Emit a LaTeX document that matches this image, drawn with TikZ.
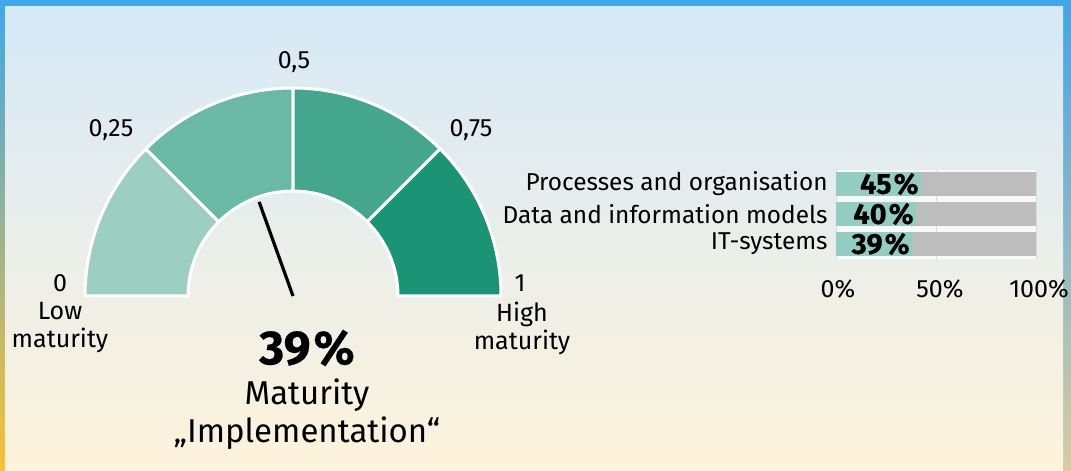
\documentclass[tikz,border=0pt]{standalone}
\usepackage{fontspec}
\setmainfont{Fira Sans}
\newfontfamily\heavyfont{Fira Sans}[UprightFeatures={FakeBold=0.4}, BoldFeatures={FakeBold=0.4}]
\usepackage{tikz}
\usetikzlibrary{calc}

\definecolor{frameblue}{HTML}{3FA7EB}
\definecolor{frameorange}{HTML}{F8C133}
\definecolor{frametan}{HTML}{D8CDA0}
\definecolor{skytop}{HTML}{D6E9F8}
\definecolor{skymid}{HTML}{F2F6F7}
\definecolor{skybottom}{HTML}{FEF3DC}
\definecolor{gaugeA}{HTML}{9CCFC2}
\definecolor{gaugeB}{HTML}{6AB9A6}
\definecolor{gaugeC}{HTML}{44A78D}
\definecolor{gaugeD}{HTML}{1A9474}
\definecolor{barfill}{HTML}{93CDC2}
\definecolor{bargray}{HTML}{BDBDBD}
\definecolor{gridgray}{HTML}{D9DCDD}

\tikzset{
  ticklabel/.style={font=\fontsize{12.5pt}{14pt}\selectfont, inner sep=0pt},
  catlabel/.style={font=\fontsize{12.2pt}{14pt}\selectfont, anchor=east, inner sep=0pt},
  pctlabel/.style={font=\fontsize{14.5pt}{16pt}\selectfont\heavyfont\bfseries, anchor=east, inner sep=0pt},
}

\begin{document}
\begin{tikzpicture}[x=0.5pt, y=0.5pt]
    % frame and background
    \useasboundingbox (0,0) rectangle (1071,471);
    \shade[top color=frameblue, bottom color=frameorange] (0,0) rectangle (1071,471);
    \shade[top color=frameblue, bottom color=frametan] (1063,0) rectangle (1071,464);
    \shade[top color=skytop, middle color=skymid, bottom color=skybottom] (5,0) rectangle (1063,464);

    % gauge
    \coordinate (C) at (293,175);
    \foreach \a/\col in {180/gaugeA, 135/gaugeB, 90/gaugeC, 45/gaugeD}
        \filldraw[fill=\col, draw=white, line width=1.5pt, line join=round]
            ([shift={(\a:208)}]C) arc[start angle=\a, end angle=\a-45, radius=208]
            -- ([shift={(\a-45:105)}]C) arc[start angle=\a-45, end angle=\a, radius=105] -- cycle;
    \coordinate (tip) at ([shift={(109.8:100)}]C);
    \draw[line width=1.6pt] (C) -- (tip);

    \node[ticklabel] (t50) at (294,409) {0,5};
    \node[ticklabel] (t25) at (111,341) {0,25};
    \node[ticklabel] (t75) at (471,341) {0,75};
    \node[ticklabel] (t0) at (60,188) {0};
    \node[ticklabel] (t100) at (520,188) {1};
    \node[ticklabel, align=center] (low) at (60,143) {Low\\maturity};
    \node[ticklabel, align=center] (high) at (522,143) {High\\maturity};

    \node[font=\fontsize{24pt}{26pt}\selectfont\heavyfont\bfseries, inner sep=0pt] (total) at (307,123) {39\kern1.5pt\%};
    \node[font=\fontsize{16.5pt}{19pt}\selectfont, align=center, inner sep=0pt] (title) at (307,57)
        {Maturity\\„Implementation“};

    % bar chart
    \fill[white, opacity=0.7] (836,301) rectangle (1036,212);
    \foreach \x in {836, 936, 1036}
        \draw[gridgray, line width=0.5pt] (\x,301) -- (\x,212);
    \foreach \yc/\xe/\name/\pct in {287/921/Processes and organisation/45,
                                    257/916/Data and information models/40,
                                    227/912/IT-systems/39}
    {
        \fill[bargray] (836,\yc-12) rectangle (1036,\yc+12);
        \fill[barfill] (836,\yc-12) rectangle (\xe,\yc+12);
        \node[catlabel] (cat\pct) at (828,\yc) {\name};
        \node[pctlabel] (val\pct) at (\xe-2,\yc) {\pct\kern1pt\%};
    }
    \node[ticklabel] (ax0) at (838,182) {0\%};
    \node[ticklabel] (ax50) at (940,182) {50\%};
    \node[ticklabel] (ax100) at (1039,182) {100\%};
\end{tikzpicture}
\end{document}
